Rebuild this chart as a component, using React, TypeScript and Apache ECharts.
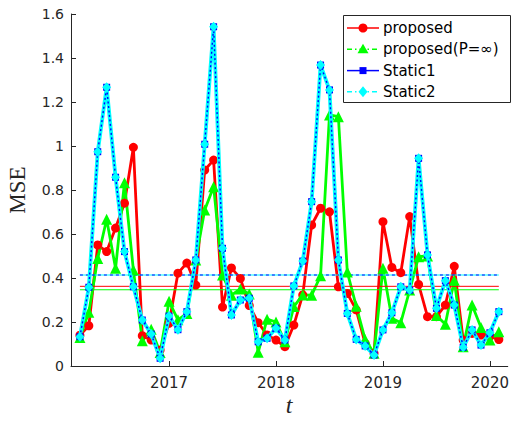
import React, { useEffect, useRef } from 'react';
import * as echarts from 'echarts';

// x positions are months counted from Jan 2016 (first sample = Mar 2016)
const firstMonth = 2;
const xMin = 1;
const xMax = 50;
const yearTicks = [12, 24, 36, 48];
const yearLabels = ['2017', '2018', '2019', '2020'];

const proposed = [
  0.14, 0.183, 0.55, 0.52, 0.627, 0.74, 0.994, 0.138, 0.118, 0.073, 0.194, 0.422,
  0.468, 0.368, 0.891, 0.936, 0.268, 0.446, 0.398, 0.275, 0.197, 0.141, 0.118, 0.088,
  0.186, 0.323, 0.641, 0.717, 0.701, 0.36, 0.33, 0.255, 0.103, 0.058, 0.656, 0.448,
  0.424, 0.679, 0.371, 0.224, 0.224, 0.277, 0.453, 0.118, 0.148, 0.141, 0.135, 0.12,
];

const proposedInf = [
  0.13, 0.244, 0.489, 0.667, 0.444, 0.833, 0.436, 0.115, 0.167, 0.061, 0.294, 0.21,
  0.239, 0.482, 0.709, 0.815, 0.414, 0.322, 0.35, 0.327, 0.062, 0.213, 0.2, 0.11,
  0.27, 0.323, 0.322, 0.41, 1.141, 1.133, 0.427, 0.272, 0.121, 0.058, 0.444, 0.217,
  0.197, 0.345, 0.497, 0.5, 0.23, 0.19, 0.39, 0.088, 0.277, 0.175, 0.118, 0.156,
];

const static1 = [
  0.133, 0.358, 0.974, 1.267, 0.858, 0.52, 0.36, 0.209, 0.145, 0.035, 0.227, 0.165,
  0.247, 0.482, 1.008, 1.542, 0.535, 0.232, 0.3, 0.308, 0.11, 0.126, 0.172, 0.118,
  0.364, 0.477, 0.747, 1.368, 1.255, 0.482, 0.239, 0.121, 0.091, 0.05, 0.164, 0.242,
  0.36, 0.345, 0.944, 0.505, 0.262, 0.388, 0.277, 0.085, 0.164, 0.095, 0.151, 0.247,
];

const static2 = static1.slice();

const legendNames = ['proposed', 'proposed(P=\u221e)', 'Static1', 'Static2'];

const RED = '#ff0000';
const GREEN = '#00ff00';
const BLUE = '#0000ff';
const CYAN = '#00ffff';
const AXIS = '#262626';

const toPoints = (vals: number[]) => vals.map((v, i) => [firstMonth + i, v]);
const mean = (vals: number[]) => vals.reduce((a, b) => a + b, 0) / vals.length;
const meanLine = (vals: number[]) => {
  const m = mean(vals);
  return [
    [firstMonth, m],
    [firstMonth + vals.length - 1, m],
  ];
};

export default function App() {
  const ref = useRef<HTMLDivElement>(null);

  useEffect(() => {
    if (!ref.current) return;
    const chart = echarts.init(ref.current, null, { renderer: 'svg' });

    const lx1 = 347;
    const lx2 = 379;
    const lmx = 363;
    const ltx = 383;
    const rows = [28, 49.3, 70.6, 91.8];

    const legendGraphics: any[] = [
      {
        type: 'rect',
        z: 100,
        shape: { x: 343.5, y: 15.5, width: 167, height: 87 },
        style: { fill: '#ffffff', stroke: AXIS, lineWidth: 1 },
      },
    ];
    const legendColors = [RED, GREEN, BLUE, CYAN];
    const legendDash: any[] = [null, [5, 3, 1.5, 3], null, [5, 3, 1.5, 3]];
    rows.forEach((y, k) => {
      legendGraphics.push({
        type: 'line',
        z: 101,
        shape: { x1: lx1, y1: y, x2: lx2, y2: y },
        style: { stroke: legendColors[k], lineWidth: 1.5, lineDash: legendDash[k] },
      });
      if (k === 0) {
        legendGraphics.push({ type: 'circle', z: 102, shape: { cx: lmx, cy: y, r: 4.5 }, style: { fill: RED } });
      } else if (k === 1) {
        legendGraphics.push({
          type: 'polygon',
          z: 102,
          shape: { points: [[lmx, y - 5.5], [lmx + 5.5, y + 4], [lmx - 5.5, y + 4]] },
          style: { fill: GREEN },
        });
      } else if (k === 2) {
        legendGraphics.push({ type: 'rect', z: 102, shape: { x: lmx - 3.5, y: y - 3.5, width: 7, height: 7 }, style: { fill: BLUE } });
      } else {
        legendGraphics.push({
          type: 'polygon',
          z: 102,
          shape: { points: [[lmx, y - 5.5], [lmx + 4.5, y], [lmx, y + 5.5], [lmx - 4.5, y]] },
          style: { fill: CYAN },
        });
      }
      legendGraphics.push({
        type: 'text',
        z: 102,
        x: ltx,
        y: y,
        style: {
          text: legendNames[k],
          fontSize: 15,
          fontFamily: 'DejaVu Sans',
          fill: '#000000',
          align: 'left',
          verticalAlign: 'middle',
        },
      });
    });

    const option: any = {
      animation: false,
      backgroundColor: '#ffffff',
      grid: { left: 71, top: 14, right: 3, bottom: 55, containLabel: false },
      xAxis: {
        type: 'value',
        min: xMin,
        max: xMax,
        axisLine: { show: true, onZero: false, lineStyle: { color: AXIS, width: 1 } },
        axisTick: { show: true, inside: true, length: 5, customValues: yearTicks, lineStyle: { color: AXIS } },
        axisLabel: {
          customValues: yearTicks,
          formatter: (v: number) => yearLabels[yearTicks.indexOf(v)] ?? '',
          fontSize: 15,
          fontFamily: 'DejaVu Sans',
          color: AXIS,
          margin: 9,
        },
        splitLine: { show: false },
      },
      yAxis: {
        type: 'value',
        min: 0,
        max: 1.6,
        interval: 0.2,
        axisLine: { show: true, lineStyle: { color: AXIS, width: 1 } },
        axisTick: { show: true, inside: true, length: 5, lineStyle: { color: AXIS } },
        axisLabel: { fontSize: 14, fontFamily: 'DejaVu Sans', color: AXIS, margin: 7 },
        splitLine: { show: false },
      },
      graphic: [
        {
          type: 'text',
          x: 17,
          y: 190,
          rotation: Math.PI / 2,
          style: {
            text: 'MSE',
            fontSize: 23,
            fontFamily: 'Liberation Serif',
            fill: AXIS,
            align: 'center',
            verticalAlign: 'middle',
          },
        },
        {
          type: 'text',
          x: 289,
          y: 405,
          style: {
            text: 't',
            fontSize: 24,
            fontStyle: 'italic',
            fontFamily: 'Liberation Serif',
            fill: AXIS,
            align: 'center',
            verticalAlign: 'middle',
          },
        },
        ...legendGraphics,
      ],
      series: [
        {
          name: legendNames[0],
          type: 'line',
          data: toPoints(proposed),
          symbol: 'circle',
          symbolSize: 9,
          lineStyle: { color: RED, width: 2.8 },
          itemStyle: { color: RED },
          z: 2,
        },
        {
          name: legendNames[1],
          type: 'line',
          data: toPoints(proposedInf),
          symbol: 'triangle',
          symbolSize: 11,
          lineStyle: { color: GREEN, width: 2.8 },
          itemStyle: { color: GREEN },
          z: 2,
        },
        {
          name: 'mean proposed',
          type: 'line',
          data: meanLine(proposed),
          symbol: 'none',
          lineStyle: { color: RED, width: 1 },
          z: 2,
        },
        {
          name: 'mean proposedInf',
          type: 'line',
          data: meanLine(proposedInf),
          symbol: 'none',
          lineStyle: { color: GREEN, width: 1 },
          z: 2,
        },
        {
          name: 'mean static2',
          type: 'line',
          data: meanLine(static2),
          symbol: 'none',
          lineStyle: { color: CYAN, width: 1 },
          z: 2,
        },
        {
          name: 'mean static1',
          type: 'line',
          data: meanLine(static1),
          symbol: 'none',
          lineStyle: { color: BLUE, width: 1, type: [3, 3] },
          z: 2,
        },
        {
          name: legendNames[3] + ' line',
          type: 'line',
          data: toPoints(static2),
          symbol: 'none',
          lineStyle: { color: CYAN, width: 3.8 },
          z: 3,
        },
        {
          name: legendNames[2] + ' line',
          type: 'line',
          data: toPoints(static1),
          symbol: 'none',
          lineStyle: { color: BLUE, width: 1.4, type: [2, 2.5] },
          z: 3,
        },
        {
          name: legendNames[2],
          type: 'line',
          data: toPoints(static1),
          symbol: 'rect',
          symbolSize: 7,
          lineStyle: { width: 0, opacity: 0 },
          itemStyle: { color: BLUE },
          z: 4,
        },
        {
          name: legendNames[3],
          type: 'line',
          data: toPoints(static2),
          symbol: 'diamond',
          symbolSize: [9, 10],
          lineStyle: { width: 0, opacity: 0 },
          itemStyle: { color: CYAN },
          z: 4,
        },
      ],
    };

    chart.setOption(option);
    return () => chart.dispose();
  }, []);

  return <div ref={ref} style={{ position: 'fixed', left: 0, top: 0, width: 512, height: 421 }} />;
}
